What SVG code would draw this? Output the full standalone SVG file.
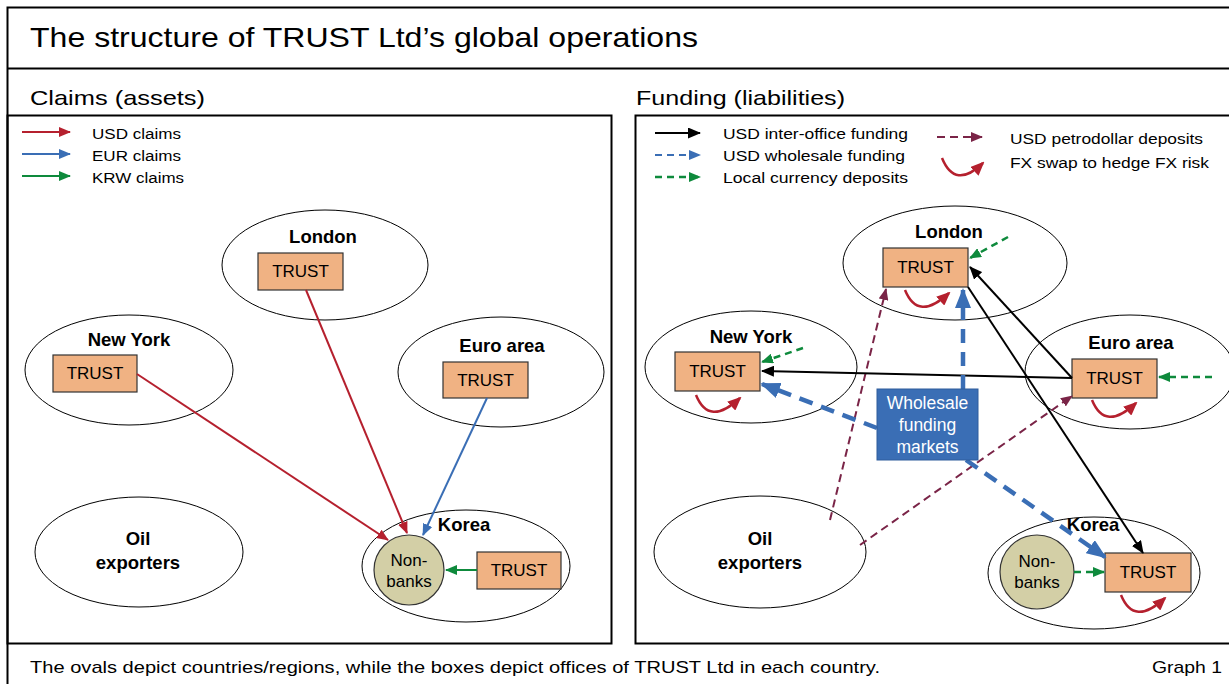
<svg xmlns="http://www.w3.org/2000/svg" width="1229" height="684" viewBox="0 0 1229 684">
<style>
text{font-family:"Liberation Sans",Arial,sans-serif;fill:#000}
.frame{fill:none;stroke:#000;stroke-width:2}
.oval{fill:#fff;stroke:#000;stroke-width:1}
.box{fill:#f0b283;stroke:#333;stroke-width:1.2}
.nb{fill:#d3cfa6;stroke:#333;stroke-width:1.2}
.lbl{font-size:18.5px;font-weight:bold;text-anchor:middle}
.bt{font-size:17px;text-anchor:middle}
.leg{font-size:15.5px}
.red{stroke:#b5202e;stroke-width:2;fill:none}
.blue{stroke:#3a6eb5;stroke-width:2;fill:none}
.green{stroke:#0e8a3c;stroke-width:2;fill:none}
.black{stroke:#000;stroke-width:2;fill:none}
.gd{stroke:#0e8a3c;stroke-width:2.5;fill:none;stroke-dasharray:7,5}
.bd{stroke:#3a6eb5;stroke-width:4.5;fill:none;stroke-dasharray:14,9}
.md{stroke:#7a2447;stroke-width:2;fill:none;stroke-dasharray:8,5}
.fx{stroke:#b5202e;stroke-width:2.5;fill:none}
</style>
<defs>
<marker id="aR" markerWidth="12" markerHeight="10" refX="11" refY="5" orient="auto" markerUnits="userSpaceOnUse"><path d="M0,0 L12,5 L0,10 z" fill="#b5202e"/></marker>
<marker id="aB" markerWidth="12" markerHeight="10" refX="11" refY="5" orient="auto" markerUnits="userSpaceOnUse"><path d="M0,0 L12,5 L0,10 z" fill="#3a6eb5"/></marker>
<marker id="aG" markerWidth="12" markerHeight="10" refX="11" refY="5" orient="auto" markerUnits="userSpaceOnUse"><path d="M0,0 L12,5 L0,10 z" fill="#0e8a3c"/></marker>
<marker id="aK" markerWidth="13" markerHeight="11" refX="12" refY="5.5" orient="auto" markerUnits="userSpaceOnUse"><path d="M0,0 L13,5.5 L0,11 z" fill="#000"/></marker>
<marker id="aM" markerWidth="12" markerHeight="10" refX="11" refY="5" orient="auto" markerUnits="userSpaceOnUse"><path d="M0,0 L12,5 L0,10 z" fill="#7a2447"/></marker>
<marker id="aBB" markerWidth="20" markerHeight="16" refX="18" refY="8" orient="auto" markerUnits="userSpaceOnUse"><path d="M0,0 L20,8 L0,16 z" fill="#3a6eb5"/></marker>
<marker id="aFX" markerWidth="14" markerHeight="12" refX="12" refY="6" orient="auto" markerUnits="userSpaceOnUse"><path d="M0,0 L14,6 L0,12 z" fill="#b5202e"/></marker>
</defs>

<g id="frames">
<rect class="frame" x="7.5" y="7.5" width="1230" height="690"/>
<line class="frame" x1="7" y1="68.5" x2="1235" y2="68.5"/>
<rect class="frame" x="7.5" y="115.5" width="604" height="528"/>
<rect class="frame" x="635.5" y="115.5" width="600" height="528"/>
</g>

<g id="titles">
<text x="30" y="47" style="font-size:28px" textLength="668" lengthAdjust="spacingAndGlyphs">The structure of TRUST Ltd’s global operations</text>
<text x="30" y="105" style="font-size:21px" textLength="175" lengthAdjust="spacingAndGlyphs">Claims (assets)</text>
<text x="636" y="105" style="font-size:21px" textLength="209" lengthAdjust="spacingAndGlyphs">Funding (liabilities)</text>
<text x="30" y="673" style="font-size:17px" textLength="850" lengthAdjust="spacingAndGlyphs">The ovals depict countries/regions, while the boxes depict offices of TRUST Ltd in each country.</text>
<text x="1152" y="673" style="font-size:17px" textLength="70" lengthAdjust="spacingAndGlyphs">Graph 1</text>
</g>

<g id="legend-left">
<line class="red" x1="22" y1="132" x2="70" y2="132" marker-end="url(#aR)"/>
<text class="leg" x="92" y="139" textLength="89" lengthAdjust="spacingAndGlyphs">USD claims</text>
<line class="blue" x1="22" y1="154" x2="70" y2="154" marker-end="url(#aB)"/>
<text class="leg" x="92" y="161" textLength="89" lengthAdjust="spacingAndGlyphs">EUR claims</text>
<line class="green" x1="22" y1="176" x2="70" y2="176" marker-end="url(#aG)"/>
<text class="leg" x="92" y="183" textLength="92" lengthAdjust="spacingAndGlyphs">KRW claims</text>
</g>

<g id="legend-right">
<line class="black" x1="655" y1="133" x2="700" y2="133" marker-end="url(#aK)"/>
<text class="leg" x="723" y="139" textLength="185" lengthAdjust="spacingAndGlyphs">USD inter-office funding</text>
<line class="blue" x1="655" y1="155" x2="700" y2="155" stroke-dasharray="7,5" stroke-width="2.5" marker-end="url(#aB)"/>
<text class="leg" x="723" y="161" textLength="182" lengthAdjust="spacingAndGlyphs">USD wholesale funding</text>
<line class="gd" x1="655" y1="177" x2="700" y2="177" marker-end="url(#aG)"/>
<text class="leg" x="723" y="183" textLength="185" lengthAdjust="spacingAndGlyphs">Local currency deposits</text>
<line class="md" x1="937" y1="137" x2="982" y2="137" stroke-width="2.5" marker-end="url(#aM)"/>
<text class="leg" x="1010" y="144" textLength="193" lengthAdjust="spacingAndGlyphs">USD petrodollar deposits</text>
<path class="fx" d="M942,158 Q955,190 983,163" marker-end="url(#aFX)"/>
<text class="leg" x="1010" y="168" textLength="199" lengthAdjust="spacingAndGlyphs">FX swap to hedge FX risk</text>
</g>

<!-- Left panel nodes -->
<g id="L-london">
<ellipse class="oval" cx="325" cy="265" rx="103" ry="55"/>
<text class="lbl" x="323" y="243">London</text>
<rect class="box" x="258" y="253" width="85" height="37"/>
<text class="bt" x="300.5" y="277">TRUST</text>
</g>
<g id="L-newyork">
<ellipse class="oval" cx="129" cy="370" rx="104" ry="55"/>
<text class="lbl" x="129" y="346">New York</text>
<rect class="box" x="53" y="355" width="84" height="37"/>
<text class="bt" x="95" y="379">TRUST</text>
</g>
<g id="L-euro">
<ellipse class="oval" cx="501" cy="372" rx="103" ry="55"/>
<text class="lbl" x="502" y="352">Euro area</text>
<rect class="box" x="443" y="362" width="85" height="36"/>
<text class="bt" x="485.5" y="386">TRUST</text>
</g>
<g id="L-oil">
<ellipse class="oval" cx="139" cy="552" rx="104" ry="55"/>
<text class="lbl" x="138" y="545">Oil</text>
<text class="lbl" x="138" y="569">exporters</text>
</g>
<g id="L-korea">
<ellipse class="oval" cx="466" cy="566" rx="104" ry="56"/>
<text class="lbl" x="464" y="531">Korea</text>
<circle class="nb" cx="409" cy="570" r="35"/>
<text class="bt" x="409" y="566">Non-</text>
<text class="bt" x="409" y="587">banks</text>
<rect class="box" x="477" y="552" width="84" height="37"/>
<text class="bt" x="519" y="576">TRUST</text>
</g>

<!-- Right panel nodes -->
<g id="R-london">
<ellipse class="oval" cx="955" cy="263" rx="112" ry="57"/>
<text class="lbl" x="949" y="238">London</text>
<rect class="box" x="883" y="248" width="85" height="39"/>
<text class="bt" x="925.5" y="273">TRUST</text>
</g>
<g id="R-newyork">
<ellipse class="oval" cx="751" cy="367" rx="106" ry="56"/>
<text class="lbl" x="751" y="343">New York</text>
<rect class="box" x="675" y="352" width="85" height="39"/>
<text class="bt" x="717.5" y="377">TRUST</text>
</g>
<g id="R-euro">
<ellipse class="oval" cx="1130" cy="372" rx="105" ry="57"/>
<text class="lbl" x="1131" y="349">Euro area</text>
<rect class="box" x="1072" y="359" width="85" height="39"/>
<text class="bt" x="1114.5" y="384">TRUST</text>
</g>
<g id="R-oil">
<ellipse class="oval" cx="760" cy="552" rx="106" ry="56"/>
<text class="lbl" x="760" y="545">Oil</text>
<text class="lbl" x="760" y="569">exporters</text>
</g>
<g id="R-korea">
<ellipse class="oval" cx="1094" cy="573" rx="106" ry="56"/>
<text class="lbl" x="1093" y="531">Korea</text>
<circle class="nb" cx="1037" cy="572" r="37"/>
<text class="bt" x="1037" y="567">Non-</text>
<text class="bt" x="1037" y="588">banks</text>
<rect class="box" x="1105" y="553" width="86" height="39"/>
<text class="bt" x="1148" y="578">TRUST</text>
</g>

<g id="connectors">
<line class="red" x1="137" y1="374" x2="388" y2="540" marker-end="url(#aR)"/>
<line class="red" x1="306" y1="290" x2="407" y2="533" marker-end="url(#aR)"/>
<line class="blue" x1="487" y1="398" x2="423" y2="535" marker-end="url(#aB)"/>
<line class="green" x1="477" y1="570" x2="446" y2="570" marker-end="url(#aG)"/>
<line class="md" x1="830" y1="520" x2="886" y2="289" marker-end="url(#aM)"/>
<line class="md" x1="860" y1="545" x2="1072" y2="396" marker-end="url(#aM)"/>
<line class="black" x1="1072" y1="378" x2="762" y2="371" marker-end="url(#aK)"/>
<line class="black" x1="1072" y1="378" x2="970" y2="267" marker-end="url(#aK)"/>
<line class="black" x1="968" y1="287" x2="1143" y2="553" marker-end="url(#aK)"/>
<line class="bd" x1="963" y1="389" x2="963" y2="290" marker-end="url(#aBB)"/>
<line class="bd" x1="877" y1="428" x2="762" y2="384" marker-end="url(#aBB)"/>
<line class="bd" x1="966" y1="460" x2="1105" y2="557" marker-end="url(#aBB)"/>
<line class="gd" x1="1008" y1="237" x2="970" y2="258" marker-end="url(#aG)"/>
<line class="gd" x1="803" y1="348" x2="762" y2="362" marker-end="url(#aG)"/>
<line class="gd" x1="1212" y1="377" x2="1159" y2="377" marker-end="url(#aG)"/>
<line class="gd" x1="1074" y1="572" x2="1104" y2="572" marker-end="url(#aG)"/>
<path class="fx" d="M905,290 Q918,322 949,293" marker-end="url(#aFX)"/>
<path class="fx" d="M696,395 Q709,427 740,398" marker-end="url(#aFX)"/>
<path class="fx" d="M1092,400 Q1105,432 1136,403" marker-end="url(#aFX)"/>
<path class="fx" d="M1121,595 Q1134,627 1165,598" marker-end="url(#aFX)"/>
</g>

<g id="wholesale">
<rect x="877" y="389" width="101" height="71" fill="#3a6eb5" stroke="#2f5d9c" stroke-width="1"/>
<text x="927.5" y="409" style="font-size:17.5px;text-anchor:middle;fill:#fff">Wholesale</text>
<text x="927.5" y="431" style="font-size:17.5px;text-anchor:middle;fill:#fff">funding</text>
<text x="927.5" y="453" style="font-size:17.5px;text-anchor:middle;fill:#fff">markets</text>
</g>
</svg>
